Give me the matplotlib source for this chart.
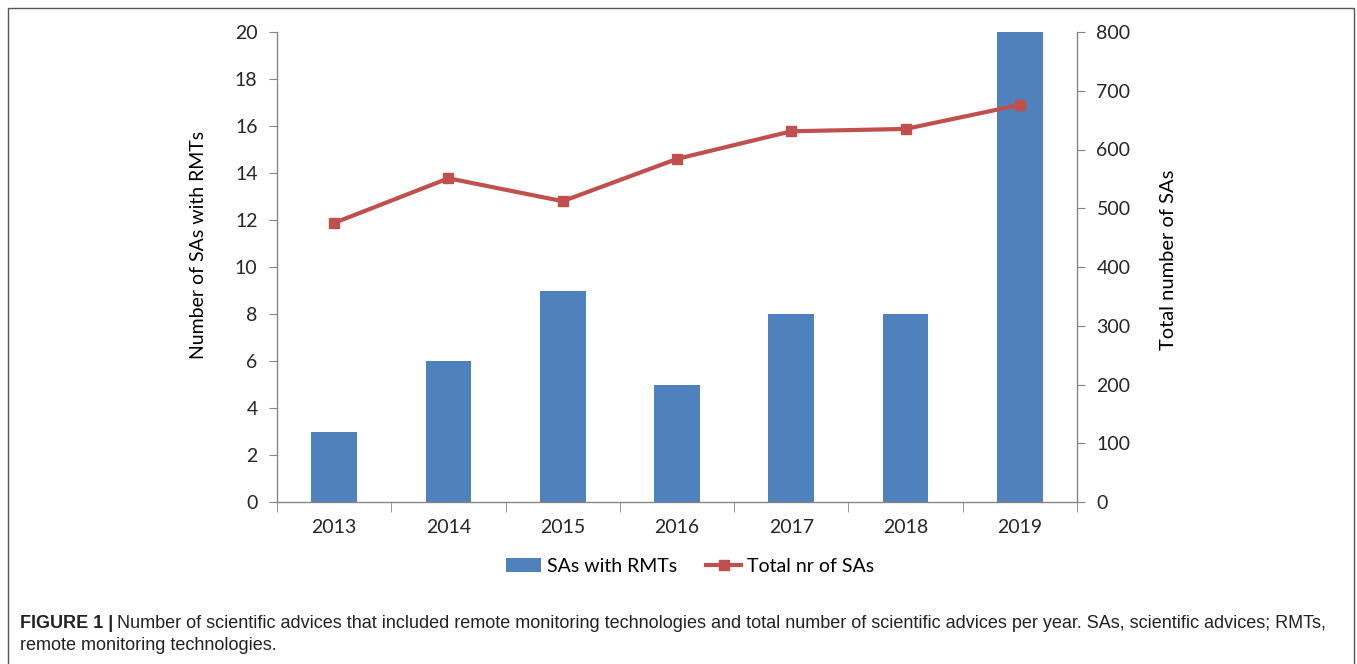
import numpy as np
import matplotlib.pyplot as plt
from matplotlib.patches import Rectangle

years = ['2013', '2014', '2015', '2016', '2017', '2018', '2019']
sas_with_rmts = [3, 6, 9, 5, 8, 8, 20]
total_sas = [475, 551, 512, 584, 631, 635, 676]

bar_color = '#4f81bd'
line_color = '#c0504d'
axis_gray = '#868686'
font = 'Lato'

fig = plt.figure(figsize=(13.57, 6.64), dpi=100)
ax = fig.add_axes([277 / 1357, 1 - 502 / 664, 800 / 1357, 470 / 664])
ax2 = ax.twinx()

x = np.arange(len(years))
ax.bar(x, sas_with_rmts, width=0.4, color=bar_color, zorder=2, label='SAs with RMTs')
ax2.plot(x, total_sas, color=line_color, lw=3, marker='s', ms=7, zorder=3,
         label='Total nr of SAs')

ax.set_xlim(-0.5, len(years) - 0.5)
ax.set_ylim(0, 20)
ax2.set_ylim(0, 800)
ax.set_yticks(range(0, 21, 2))
ax2.set_yticks(range(0, 801, 100))
ax.set_xticks(x)
ax.set_xticklabels(years)
ax.set_xticks(np.arange(-0.5, len(years)), minor=True)

for a in (ax, ax2):
    for s in a.spines.values():
        s.set_visible(False)
ax.spines['left'].set_visible(True)
ax.spines['bottom'].set_visible(True)
ax2.spines['right'].set_visible(True)
for s in (ax.spines['left'], ax.spines['bottom'], ax2.spines['right']):
    s.set_color(axis_gray)
    s.set_linewidth(1)

ax.tick_params(axis='x', which='major', length=0, pad=12, labelsize=14)
ax.tick_params(axis='x', which='minor', length=7, color=axis_gray, direction='out')
ax.tick_params(axis='y', length=6, color=axis_gray, labelsize=14, pad=8)
ax2.tick_params(axis='y', length=6, color=axis_gray, labelsize=14, pad=8)
for lab in ax.get_xticklabels() + ax.get_yticklabels() + ax2.get_yticklabels():
    lab.set_fontfamily(font)
    lab.set_color('#262626')

ax.set_ylabel('Number of SAs with RMTs', fontsize=14, family=font)
ax2.set_ylabel('Total number of SAs', fontsize=14.5, family=font)
ax.yaxis.set_label_coords(-0.0875, 0.547)
ax2.yaxis.set_label_coords(1.104, 0.515)

h1, l1 = ax.get_legend_handles_labels()
h2, l2 = ax2.get_legend_handles_labels()
fig.legend(h1 + h2, l1 + l2, loc='center', bbox_to_anchor=(690 / 1357, 1 - 566 / 664),
           ncol=2, frameon=False, prop={'family': font, 'size': 14},
           handlelength=1.8, handletextpad=0.3, columnspacing=1.5)

fig.patches.append(Rectangle((8 / 1357, -0.05), 1346 / 1357, 1.05 - 8 / 664,
                             transform=fig.transFigure, fill=False,
                             edgecolor='#555555', lw=1))

cap = 'Liberation Sans'
t1 = fig.text(20 / 1357, 1 - 623 / 664, 'FIGURE 1 |', fontsize=13, weight='bold',
              family=cap, va='center', color='#222222')
fig.canvas.draw()
bb = t1.get_window_extent()
fig.text(bb.x1 / 1357 + 4 / 1357, 1 - 623 / 664,
         'Number of scientific advices that included remote monitoring technologies and '
         'total number of scientific advices per year. SAs, scientific advices; RMTs,',
         fontsize=13, family=cap, va='center', color='#222222')
fig.text(20 / 1357, 1 - 646 / 664, 'remote monitoring technologies.', fontsize=13,
         family=cap, va='center', color='#222222')

fig.savefig('out.png', dpi=100)
